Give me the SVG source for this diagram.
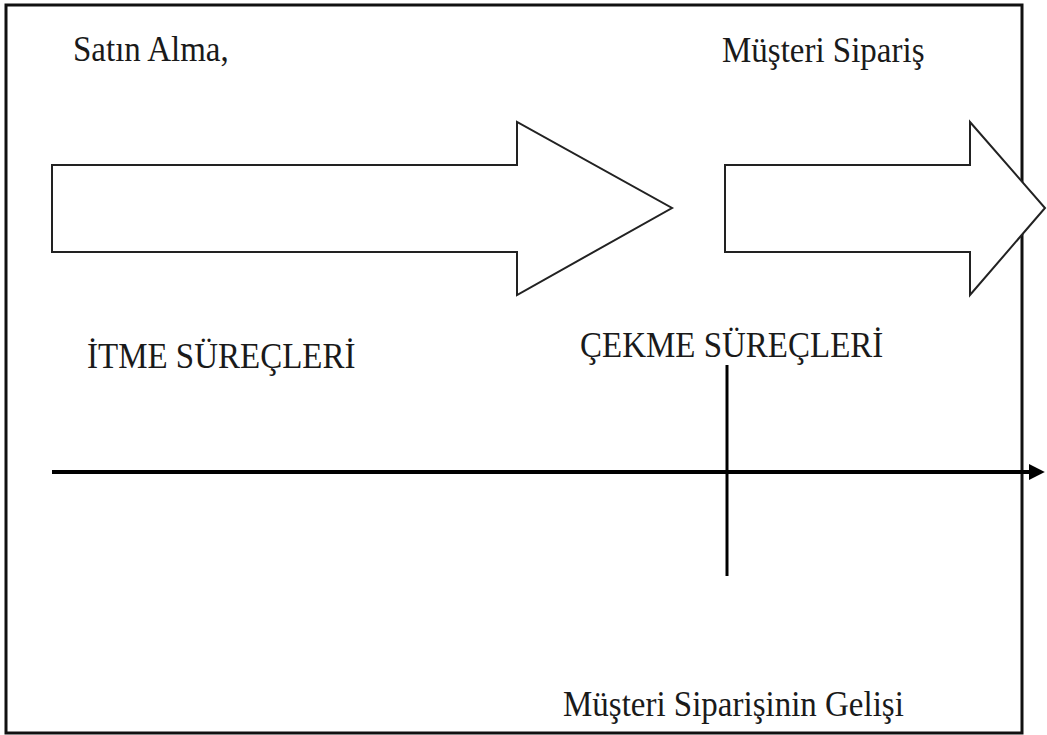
<svg xmlns="http://www.w3.org/2000/svg" width="1047" height="735" viewBox="0 0 1047 735">
  <style>
    .lbl { font-family: "Liberation Serif", "Times New Roman", serif; font-size: 33px; fill: #1a1a1a; }
    .block { fill: #ffffff; stroke: #222222; stroke-width: 2; stroke-linejoin: miter; }
  </style>
  <defs>
    <marker id="axisHead" viewBox="0 0 10 10" refX="2" refY="5" markerWidth="4" markerHeight="4" orient="auto" markerUnits="strokeWidth">
      <path d="M0,0 L10,5 L0,10 z" fill="#000"/>
    </marker>
  </defs>
  <rect x="0" y="0" width="1047" height="735" fill="#ffffff"/>

  <!-- outer frame -->
  <rect x="6" y="5" width="1016" height="728" fill="none" stroke="#111" stroke-width="3"/>

  <!-- push block arrow -->
  <g id="push-arrow">
    <path class="block" d="M52,165 L517,165 L517,122 L672,208 L517,295 L517,252 L52,252 Z"/>
  </g>

  <!-- pull block arrow -->
  <g id="pull-arrow">
    <path class="block" d="M725,165 L970,165 L970,122 L1045,208 L970,295 L970,252 L725,252 Z"/>
  </g>

  <!-- labels: slightly tall serif lettering -->
  <g id="label-satin-alma"><text class="lbl" transform="translate(73,61) scale(1,1.1)">Satın Alma,</text></g>
  <g id="label-musteri-siparis"><text class="lbl" transform="translate(722,62) scale(1,1.1)">Müşteri Sipariş</text></g>
  <g id="label-itme"><text class="lbl" transform="translate(87,368) scale(1,1.1)">İTME SÜREÇLERİ</text></g>
  <g id="label-cekme"><text class="lbl" transform="translate(580,357) scale(1,1.1)">ÇEKME SÜREÇLERİ</text></g>
  <g id="label-gelis"><text class="lbl" transform="translate(563,716) scale(1,1.1)">Müşteri Siparişinin Gelişi</text></g>

  <g id="connectors">
    <!-- time axis -->
    <line x1="52" y1="472" x2="1032" y2="472" stroke="#000" stroke-width="4" marker-end="url(#axisHead)"/>
    <!-- order arrival marker -->
    <line x1="727" y1="365" x2="727" y2="576" stroke="#000" stroke-width="3"/>
  </g>
</svg>
